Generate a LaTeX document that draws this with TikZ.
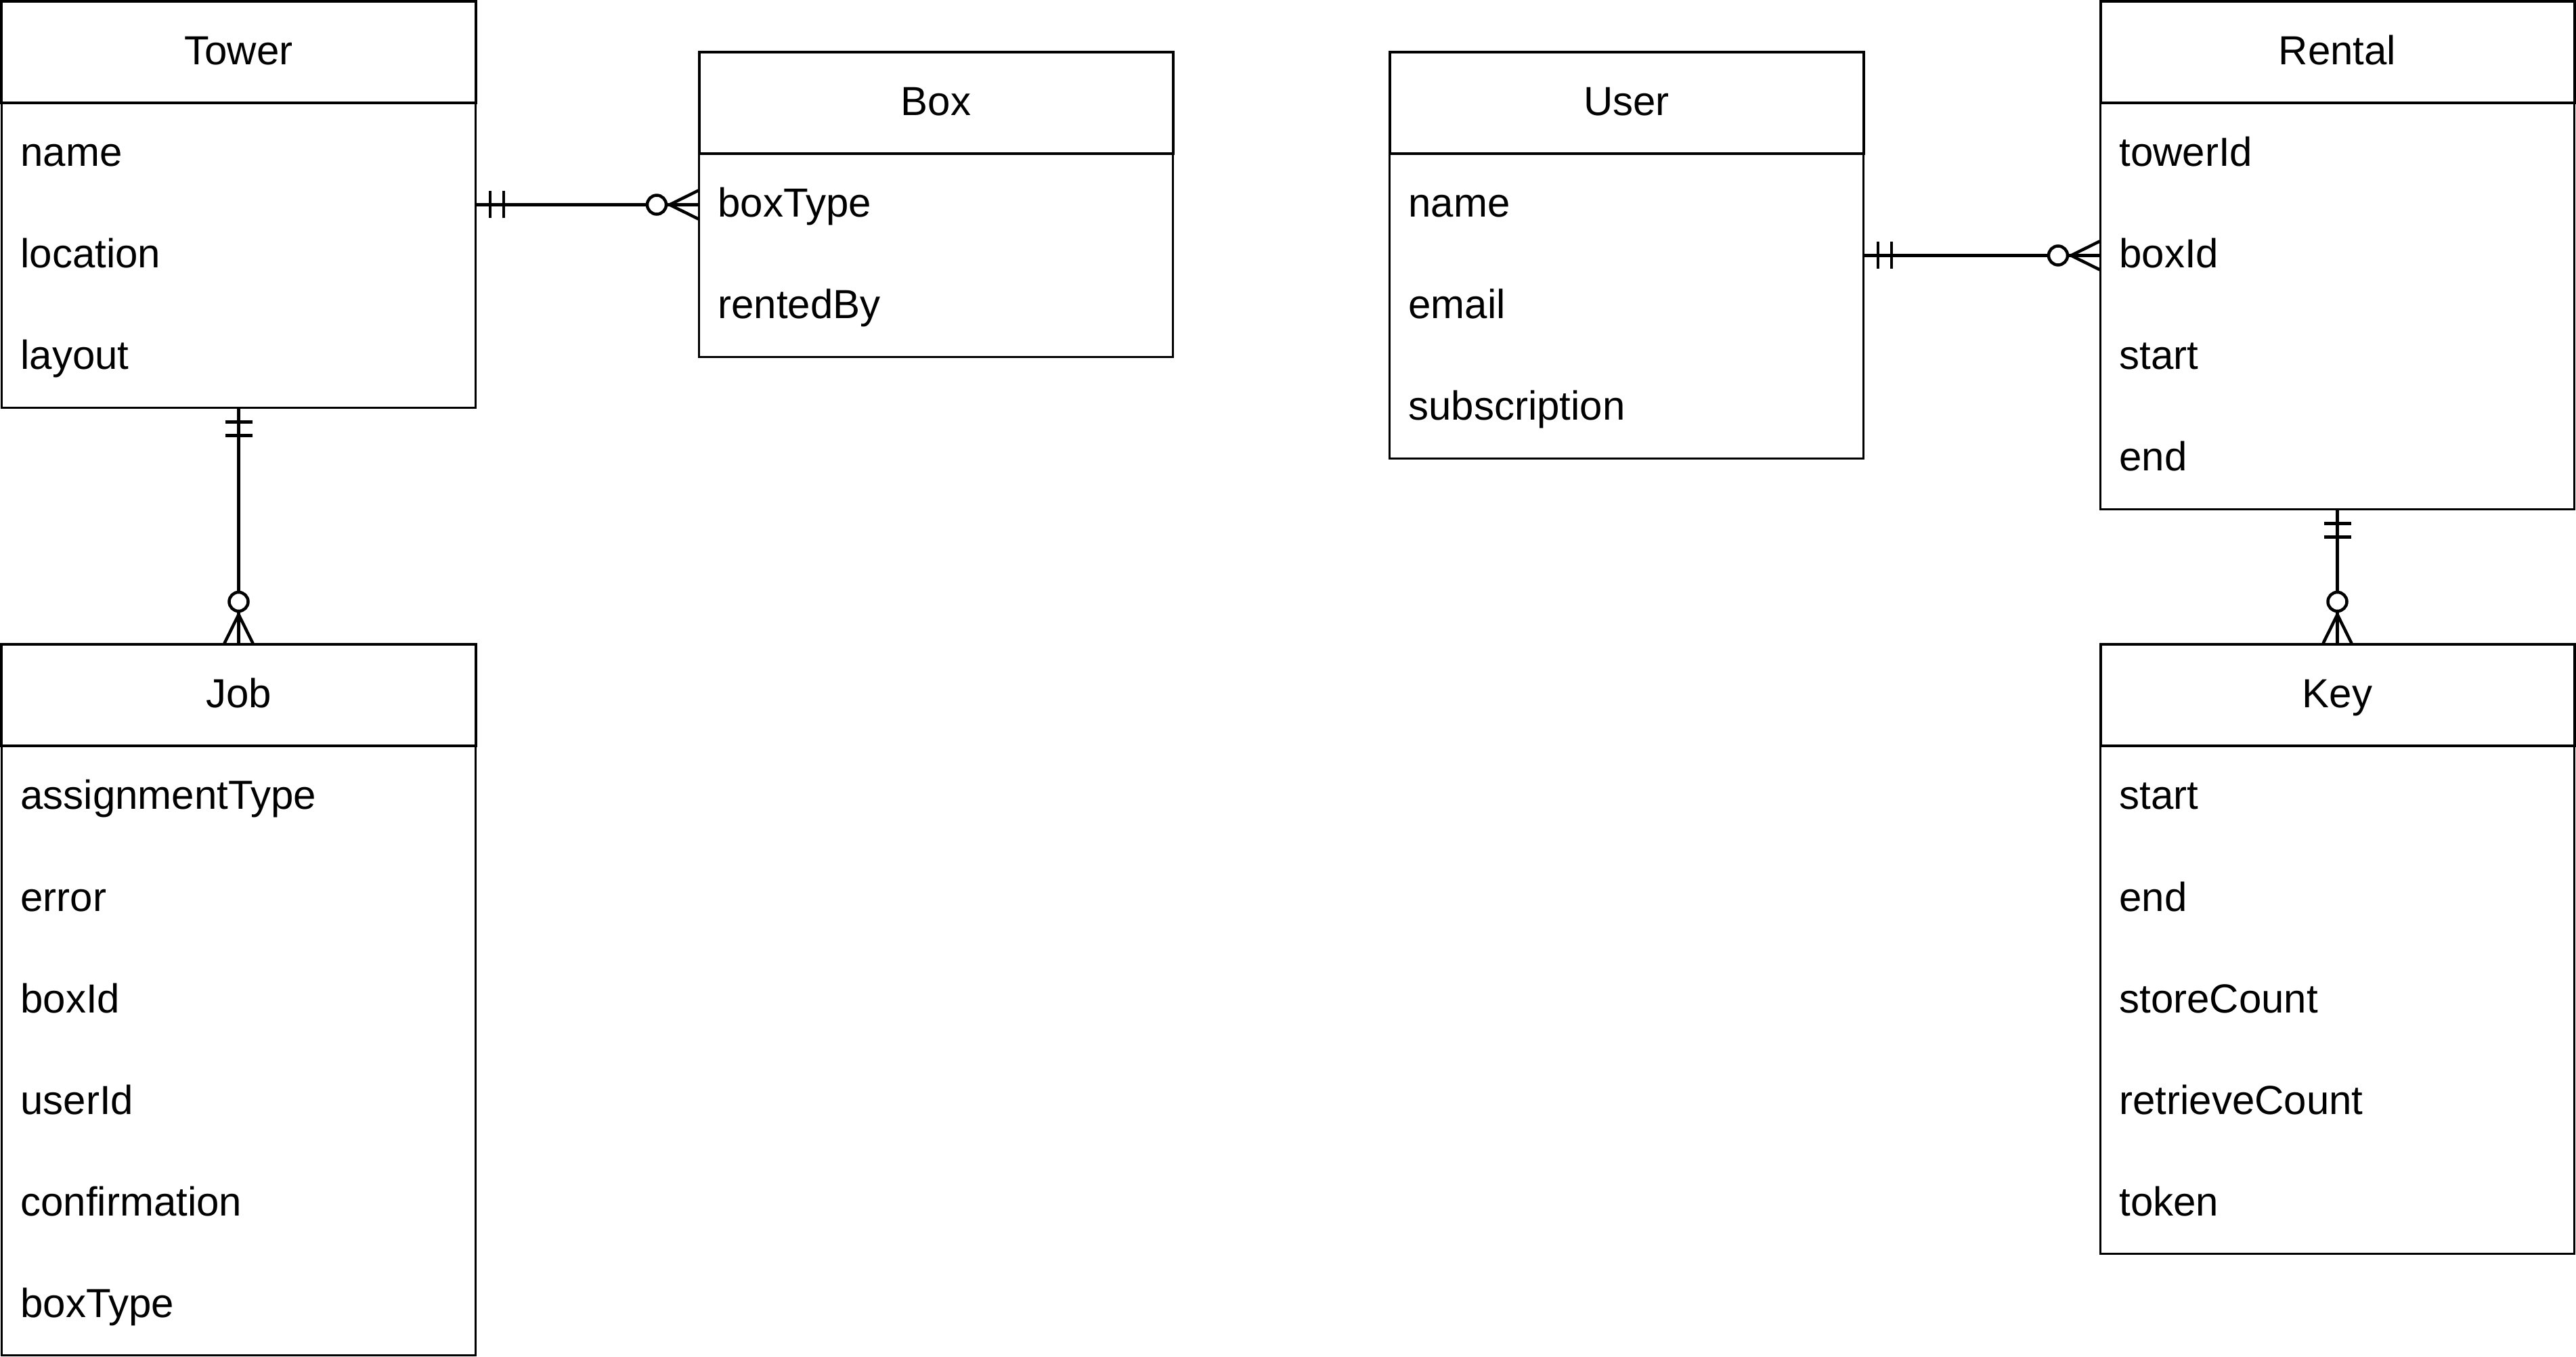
\documentclass[tikz,border=0pt]{standalone}
\usepackage{fontspec}
\setmainfont{Liberation Sans}
\usepackage{tikz}
\usetikzlibrary{positioning,calc,decorations.markings}

\begin{document}
\begin{tikzpicture}[x=1pt, y=-1pt,
      every node/.style={font=\fontsize{12pt}{14pt}\selectfont},
      header/.style={draw, line width=0.8pt, fill=white, rectangle, minimum width=140pt, minimum height=30pt, inner sep=0pt, text height=7.4pt, text depth=0pt},
      body/.style={draw, line width=0.5pt, rectangle, minimum width=140pt, inner sep=0pt},
      field/.style={rectangle, minimum width=140pt, minimum height=30pt, inner xsep=5.6pt, inner ysep=0pt, text width=128.8pt, align=left, text height=7.4pt, text depth=0pt},
      relation/.style={line width=0.9pt, postaction={decorate, decoration={markings,
          mark=at position 4pt with {\draw[line width=0.9pt] (0pt,-4pt) -- (0pt,4pt);},
          mark=at position 8pt with {\draw[line width=0.9pt] (0pt,-4pt) -- (0pt,4pt);},
          mark=at position -12.3pt with {\draw[line width=0.9pt, fill=white] (0pt,0pt) circle[radius=2.8pt];},
          mark=at position -8.5pt with {\draw[line width=0.9pt] (8.5pt,4.2pt) -- (0pt,0pt) -- (8.5pt,-4.2pt);}}}}
    ]
    \useasboundingbox (-0.5,-0.5) rectangle (760.5,400.5);

    \node[body, minimum height=90pt] (towerbody) at (70,75) {};
    \node[header] (tower) at (70,15) {Tower};
    \node[field] (towername) at (70,45) {name};
    \node[field] (towerlocation) at (70,75) {location};
    \node[field] (towerlayout) at (70,105) {layout};

    \node[body, minimum height=60pt] (boxbody) at (276,75) {};
    \node[header] (box) at (276,30) {Box};
    \node[field] (boxtype) at (276,60) {boxType};
    \node[field] (boxrented) at (276,90) {rentedBy};

    \node[body, minimum height=90pt] (userbody) at (480,90) {};
    \node[header] (user) at (480,30) {User};
    \node[field] (username) at (480,60) {name};
    \node[field] (useremail) at (480,90) {email};
    \node[field] (usersub) at (480,120) {subscription};

    \node[body, minimum height=120pt] (rentalbody) at (690,90) {};
    \node[header] (rental) at (690,15) {Rental};
    \node[field] (rentaltower) at (690,45) {towerId};
    \node[field] (rentalbox) at (690,75) {boxId};
    \node[field] (rentalstart) at (690,105) {start};
    \node[field] (rentalend) at (690,135) {end};

    \node[body, minimum height=180pt] (jobbody) at (70,310) {};
    \node[header] (job) at (70,205) {Job};
    \node[field] (jobassign) at (70,235) {assignmentType};
    \node[field] (joberror) at (70,265) {error};
    \node[field] (jobbox) at (70,295) {boxId};
    \node[field] (jobuser) at (70,325) {userId};
    \node[field] (jobconfirm) at (70,355) {confirmation};
    \node[field] (jobtype) at (70,385) {boxType};

    \node[body, minimum height=150pt] (keybody) at (690,295) {};
    \node[header] (key) at (690,205) {Key};
    \node[field] (keystart) at (690,235) {start};
    \node[field] (keyend) at (690,265) {end};
    \node[field] (keystore) at (690,295) {storeCount};
    \node[field] (keyretrieve) at (690,325) {retrieveCount};
    \node[field] (keytoken) at (690,355) {token};

    \draw[relation] (towerbody.east |- boxtype.west) -- (boxtype.west);
    \draw[relation] (userbody.east |- rentalbox.west) -- (rentalbox.west);
    \draw[relation] (towerbody.south) -- (job.north);
    \draw[relation] (rentalbody.south) -- (key.north);
  \end{tikzpicture}
\end{document}
